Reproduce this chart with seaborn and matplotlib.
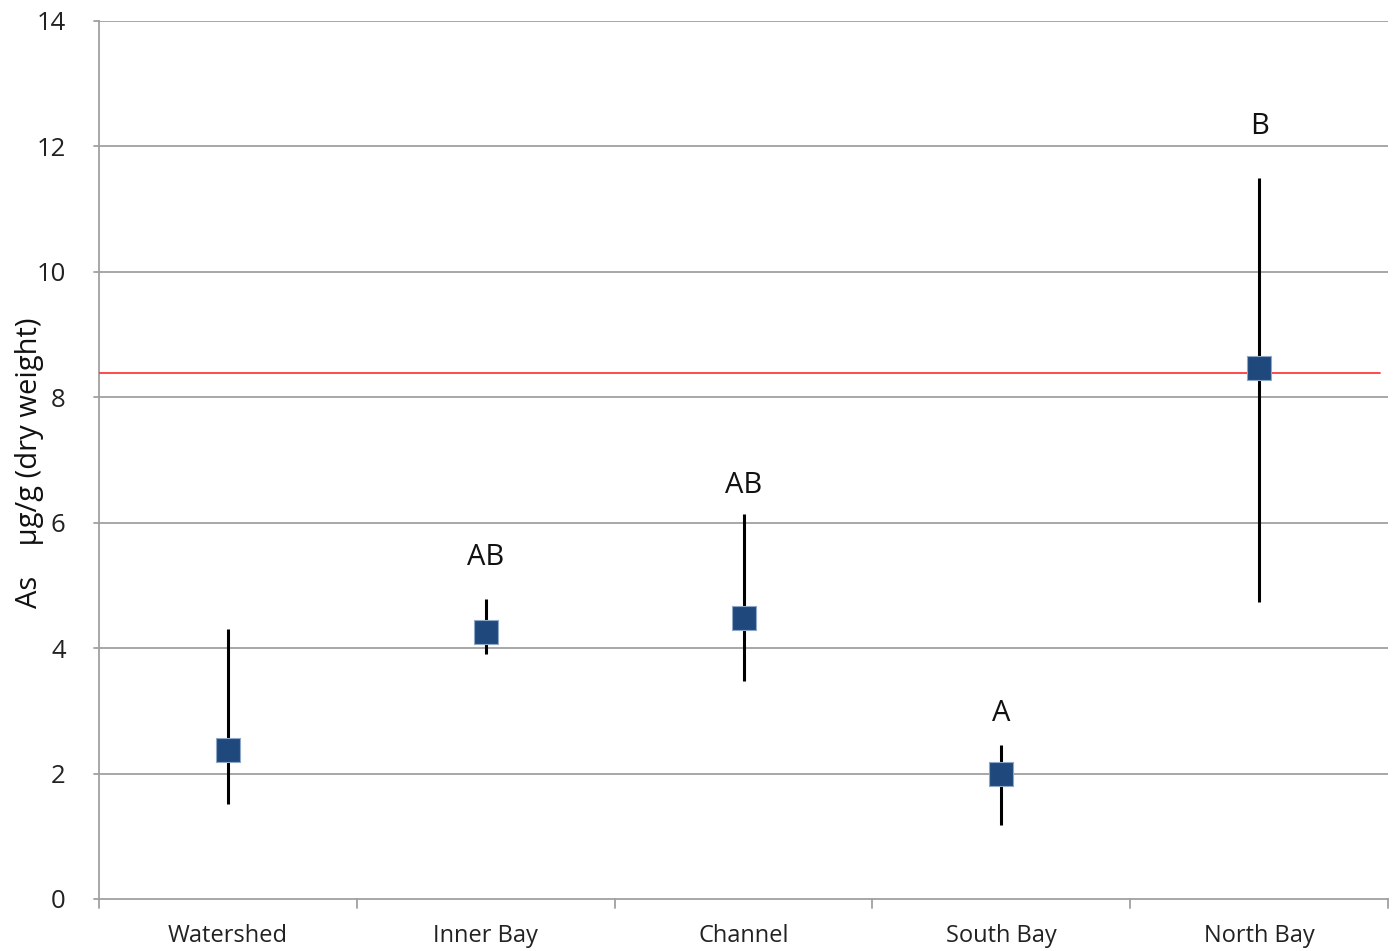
import matplotlib

matplotlib.use("Agg")
import matplotlib.pyplot as plt
import numpy as np
import pandas as pd
import seaborn as sns

sites = ["Watershed", "Inner Bay", "Channel", "South Bay", "North Bay"]
means = [2.38, 4.26, 4.48, 1.99, 8.47]
upper = [4.31, 4.78, 6.14, 2.46, 11.50]
lower = [1.52, 3.91, 3.48, 1.18, 4.74]
groups = ["", "AB", "AB", "A", "B"]
group_y = [0, 5.44, 6.59, 2.95, 12.31]
guideline = 8.39

df = pd.DataFrame({"site": sites, "mean": means, "lo": lower, "hi": upper})
df["pos"] = np.arange(len(sites))

sns.set_style("white")
plt.rcParams["font.family"] = ["Open Sans", "DejaVu Sans"]

fig = plt.figure(figsize=(13.95, 9.51), dpi=100)
ax = fig.add_axes([0.071, 0.0547, 0.924, 0.9233])

for y in range(2, 15, 2):
    ax.axhline(y, color="#a0a0a0", lw=1.3, zorder=0)

ax.vlines(df["pos"], df["lo"], df["hi"], color="black", lw=2.2, zorder=2)
ax.axhline(guideline, xmax=0.9935, color="#ff3b3b", lw=1.3, zorder=3)
sns.scatterplot(data=df, x="pos", y="mean", marker="s", s=310, color="#1f497d",
                edgecolor="#8fa8c8", linewidth=0.8, zorder=4, ax=ax, legend=False)

for x, lab, gy in zip(df["pos"], groups, group_y):
    if lab:
        ax.text(x, gy, lab, ha="center", va="center", fontsize=21, color="#111111")

ax.set_xlim(-0.5, len(sites) - 0.5)
ax.set_ylim(0, 14)
ax.set_yticks(range(0, 15, 2))
ax.set_xticks(df["pos"])
ax.set_xticklabels(sites)
ax.tick_params(axis="x", length=0, labelsize=17, pad=18, colors="#222222")
ax.tick_params(axis="y", length=0, labelsize=18.5, pad=24, colors="#222222")
for y in range(0, 15, 2):
    ax.plot([-0.5 - 0.02, -0.5], [y, y], color="#a0a0a0", lw=1.3, clip_on=False)
for b in np.arange(-0.5, len(sites), 1.0):
    ax.plot([b, b], [0, -0.14], color="#a0a0a0", lw=1.3, clip_on=False)
ax.set_xlabel("")
ax.set_ylabel("As    µg/g (dry weight)", fontsize=21, color="#111111")
ax.yaxis.set_label_coords(-0.043, 0.497)

for side in ["top", "right"]:
    ax.spines[side].set_visible(False)
for side in ["left", "bottom"]:
    ax.spines[side].set_color("#a0a0a0")
    ax.spines[side].set_linewidth(1.3)

fig.savefig("out.png", dpi=100)
